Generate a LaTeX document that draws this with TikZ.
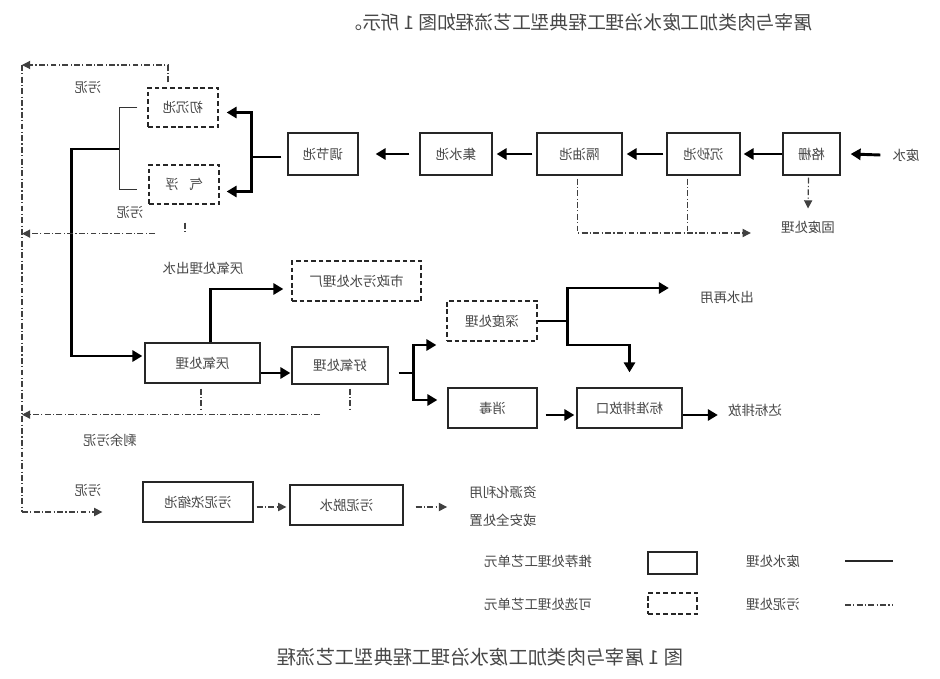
\documentclass[tikz,border=0pt]{standalone}
\usepackage{fontspec}
\usepackage{graphicx}
\newfontfamily\cjk{Noto Sans CJK SC}
\usetikzlibrary{arrows.meta,calc}
\newcommand{\M}[1]{\reflectbox{\cjk #1}}
\begin{document}
\begin{tikzpicture}[x=0.03cm,y=-0.03cm,
  font=\cjk\fontsize{11.5}{13}\selectfont, text=black!72,
  bx/.style 2 args={draw=black!85, line width=1.1pt, minimum width=#1*0.03cm, minimum height=#2*0.03cm, inner sep=0pt},
  dbx/.style 2 args={bx={#1}{#2}, dash pattern=on 4pt off 2.5pt},
  lbl/.style={inner sep=0pt},
  wline/.style={line width=2.5pt, black, line join=miter},
  warr/.style={wline, -{Triangle[length=8.5pt,width=9.5pt]}},
  thinl/.style={line width=1pt, black!80},
  sl/.style={line width=1pt, black!75, dash pattern=on 5pt off 2pt on 1pt off 2pt},
  slarr/.style={sl, -{Triangle[length=7pt,width=7pt]}}]
\useasboundingbox (0,0) rectangle (940,679);
\fill[white] (0,0) rectangle (940,679);

% title and caption
\node[lbl] (title) at (578,22) {\M{\fontsize{16}{18}\selectfont 屠宰与肉类加工废水治理工程典型工艺流程如图 1 所示。}};
\node[lbl] (cap) at (480,657) {\M{\fontsize{16.5}{18}\selectfont 图 1 屠宰与肉类加工废水治理工程典型工艺流程}};

% boxes
\node[bx={57}{42}] (gs) at (811.5,154) {\M{格栅}};
\node[bx={73}{42}] (cs) at (703.5,154) {\M{沉砂池}};
\node[bx={85}{42}] (gy) at (579.5,154) {\M{隔油池}};
\node[bx={72}{42}] (js) at (456,154) {\M{集水池}};
\node[bx={70}{42}] (tj) at (323,154) {\M{调节池}};
\node[dbx={70}{39}] (cc) at (183,107.5) {\M{初沉池}};
\node[dbx={70}{39}] (qf) at (184,184.5) {\M{气\hspace{0.8em}浮}};
\node[dbx={129}{40}] (sz) at (356.5,281) {\M{市政污水处理厂}};
\node[bx={115}{40}] (yy) at (202.5,363) {\M{厌氧处理}};
\node[bx={96}{37}] (hy) at (340,365.5) {\M{好氧处理}};
\node[dbx={90}{40}] (sd) at (492,321) {\M{深度处理}};
\node[bx={89}{40}] (xd) at (492.5,408) {\M{消毒}};
\node[bx={105}{40}] (bz) at (629.5,408) {\M{标准排放口}};
\node[bx={110}{40}] (ns) at (198,502) {\M{污泥浓缩池}};
\node[bx={113}{40}] (ws) at (346.5,505) {\M{污泥脱水}};

% labels
\node[lbl] (fs) at (906,155) {\M{废水}};
\node[lbl] (gf) at (808,227) {\M{固废处理}};
\node[lbl] (wn1) at (88,87) {\M{污泥}};
\node[lbl] (wn2) at (130,212) {\M{污泥}};
\node[lbl] (yyc) at (203,268) {\M{厌氧处理出水}};
\node[lbl] (csz) at (727,297) {\M{出水再用}};
\node[lbl] (dbp) at (755,410) {\M{达标排放}};
\node[lbl] (syw) at (110,440) {\M{剩余污泥}};
\node[lbl] (wn3) at (88,490) {\M{污泥}};
\node[lbl] (zy1) at (503,492) {\M{资源化利用}};
\node[lbl] (zy2) at (503,520) {\M{或安全处置}};

% legend
\node[bx={49}{22}] (lg1) at (672.5,563) {};
\node[dbx={49}{21}] (lg2) at (672.5,603.5) {};
\node[lbl] (lt1) at (538,561) {\M{推荐处理工艺单元}};
\node[lbl] (lt2) at (538,604) {\M{可选处理工艺单元}};
\node[lbl] (lt3) at (773,561) {\M{废水处理}};
\node[lbl] (lt4) at (773,604) {\M{污泥处理}};
\coordinate (lw1) at (845,561);
\coordinate (lw2) at (845,605);
\draw[line width=1.3pt, black!85] (lw1) -- ++(48,0);
\draw[sl] (lw2) -- ++(48,0);

% wastewater main line
\draw[warr] ($(fs.west)+(-12,0)$) -- ($(gs.east)+(10,0)$);
\draw[warr] (gs.west) -- ($(cs.east)+(3,0)$);
\draw[warr] ($(cs.west)+(-3,0)$) -- ($(gy.east)+(4,0)$);
\draw[warr] ($(gy.west)+(-4,0)$) -- ($(js.east)+(4,0)$);
\draw[warr] ($(js.west)+(-10,0)$) -- ($(tj.east)+(17,0)$);

\draw[wline] ($(tj.west)+(-6,3)$) -- ++(-30,0) coordinate (j1);
\draw[warr] (j1) |- ($(cc.east)+(8,5)$);
\draw[warr] (j1) |- ($(qf.east)+(7,7)$);

\coordinate (t1) at ($(cc.west)+(-10,0)$);
\coordinate (t2) at ($(qf.west)+(-11,5)$);
\draw[thinl] (t1) -- ++(-18,0) |- (t2);
\coordinate (j2) at ($(t1)+(-18,41.5)$);
\draw[warr] (j2) -- ++(-48,0) |- ($(yy.west)+(-2,-7)$);

\draw[warr] ($(yy.north)+(8,0)$) |- ($(sz.west)+(-8,8)$);
\draw[warr] ($(yy.east)+(0,10)$) -- ($(hy.west)+(-1,7.5)$);
\draw[wline] ($(hy.east)+(10,7.5)$) -- ++(15,0) coordinate (j3);
\draw[warr] (j3) |- ($(sd.west)+(-10,24)$);
\draw[warr] (j3) |- ($(xd.west)+(-10,-8)$);
\draw[wline] (sd.east) -- ++(30,0) coordinate (j4);
\draw[warr] (j4) |- ($(csz.west)+(-31,-9)$);
\draw[warr] (j4) -- ++(0,24) -| ($(bz.north)+(0,-15)$);
\draw[warr] ($(xd.east)+(8,7)$) -- ($(bz.west)+(-2,7)$);
\draw[warr] ($(bz.east)+(0,7)$) -- ($(dbp.west)+(-10,5)$);

% sludge lines
\coordinate (L1) at (22,65);
\coordinate (L2) at (22,512);
\draw[slarr] ($(cc.north)+(-15,-5)$) |- (L1);
\draw[sl] (L1) -- (L2);
\draw[slarr] (L2) -- ($(ns.west)+(-40,10)$);
\draw[slarr] ($(qf.south)+(-29,29)$) coordinate (q1) -- (q1 -| L1);
\draw[sl] ($(qf.south)+(1,18)$) -- ++(0,10);
\draw[slarr] ($(hy.south)+(-20,30)$) coordinate (h1) -- (h1 -| L1);
\draw[sl] ($(yy.south)+(-1.5,5)$) -- ++(0,22);
\draw[sl] ($(hy.south)+(10,4)$) -- ++(0,22);
\draw[slarr] ($(gy.south)+(-2,3)$) |- ($(gf.west)+(-30,6)$);
\draw[sl] ($(cs.south)+(-16,3)$) -- ++(0,54);
\draw[slarr] ($(gs.south)+(-3,2)$) -- ($(gf.north)+(0,-12)$);
\draw[slarr] ($(ns.east)+(3,5)$) -- ($(ws.west)+(-3,2)$);
\draw[slarr] ($(ws.east)+(12,2)$) -- ($(zy1.west)+(-22,15)$);
\end{tikzpicture}
\end{document}
